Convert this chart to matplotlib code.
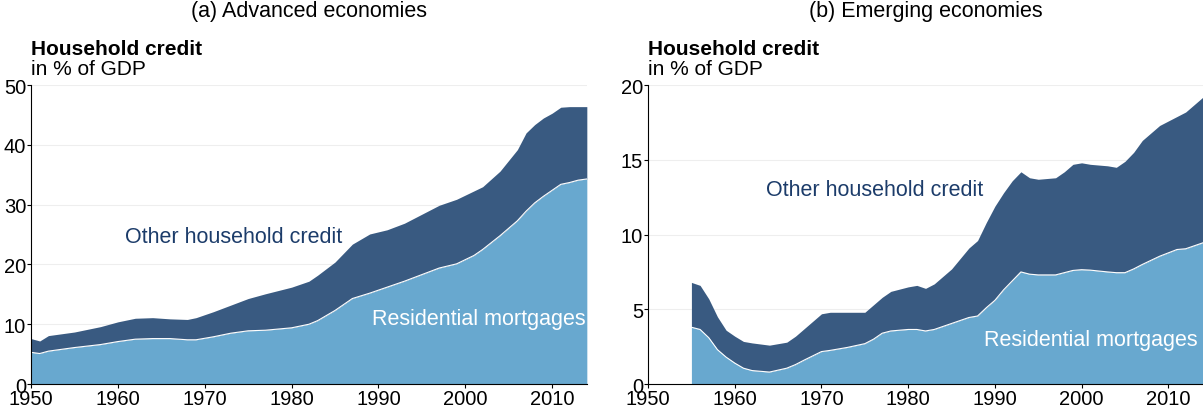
import numpy as np
import matplotlib.pyplot as plt
import matplotlib as mpl

mpl.rcParams["font.family"] = ["Liberation Sans", "DejaVu Sans"]

# ── data: advanced economies ─────────────────────
adv_years = [1950, 1951, 1952, 1955, 1958, 1960, 1962, 1964, 1966, 1968, 1969,
             1971, 1973, 1975, 1977, 1980, 1982, 1983, 1985, 1987, 1989, 1991,
             1993, 1995, 1997, 1999, 2001, 2002, 2004, 2006, 2007, 2008, 2009,
             2010, 2011, 2012, 2013, 2014]
adv_total = [7.6, 7.2, 8.1, 8.7, 9.6, 10.4, 11.0, 11.1, 10.9, 10.8, 11.1,
             12.1, 13.2, 14.3, 15.1, 16.2, 17.2, 18.2, 20.4, 23.4, 25.1, 25.8,
             26.9, 28.4, 29.9, 30.9, 32.3, 33.0, 35.6, 39.2, 42.0, 43.4, 44.5,
             45.3, 46.3, 46.4, 46.4, 46.4]
adv_mort = [5.3, 5.1, 5.5, 6.1, 6.6, 7.1, 7.5, 7.6, 7.6, 7.4, 7.4,
            7.9, 8.5, 8.9, 9.0, 9.4, 10.0, 10.6, 12.3, 14.3, 15.2, 16.2,
            17.2, 18.3, 19.4, 20.1, 21.5, 22.5, 24.8, 27.3, 28.9, 30.3, 31.4,
            32.4, 33.4, 33.7, 34.1, 34.3]

# ── data: emerging economies ─────────────────────
em_years = [1955, 1956, 1957, 1958, 1959, 1960, 1961, 1962, 1964, 1966, 1967,
            1968, 1970, 1971, 1973, 1975, 1976, 1977, 1978, 1980, 1981, 1982,
            1983, 1985, 1986, 1987, 1988, 1989, 1990, 1991, 1992, 1993, 1994,
            1995, 1997, 1998, 1999, 2000, 2001, 2003, 2004, 2005, 2006, 2007,
            2009, 2011, 2012, 2013, 2014]
em_total = [6.8, 6.6, 5.7, 4.5, 3.6, 3.2, 2.85, 2.75, 2.6, 2.8, 3.2,
            3.7, 4.7, 4.8, 4.8, 4.8, 5.3, 5.8, 6.2, 6.5, 6.6, 6.4,
            6.7, 7.7, 8.4, 9.1, 9.6, 10.8, 11.9, 12.8, 13.6, 14.2, 13.8,
            13.7, 13.8, 14.2, 14.7, 14.8, 14.7, 14.6, 14.5, 14.9, 15.5, 16.3,
            17.3, 17.9, 18.2, 18.7, 19.2]
em_mort = [3.8, 3.65, 3.1, 2.3, 1.8, 1.4, 1.06, 0.9, 0.8, 1.06, 1.3,
           1.6, 2.17, 2.25, 2.45, 2.7, 3.0, 3.4, 3.55, 3.65, 3.65, 3.55,
           3.65, 4.05, 4.25, 4.45, 4.55, 5.1, 5.6, 6.3, 6.9, 7.5, 7.35,
           7.3, 7.3, 7.45, 7.6, 7.65, 7.62, 7.5, 7.45, 7.45, 7.7, 8.0,
           8.55, 9.0, 9.05, 9.25, 9.45]

light = "#68a8cf"
dark = "#395a81"
navy = "#1c3c6a"

fig = plt.figure(figsize=(12.03, 4.14), dpi=100)
ax1 = fig.add_axes([0.0258, 0.070, 0.462, 0.722])
ax2 = fig.add_axes([0.5387, 0.070, 0.4613, 0.722])


def draw(ax, years, total, mort, ymax, yticks, title, lab_other, lab_mort):
    ax.fill_between(years, mort, total, color=dark, linewidth=0)
    ax.fill_between(years, 0, mort, color=light, linewidth=0)
    ax.plot(years, mort, color="white", linewidth=0.8)
    ax.set_xlim(1950, 2014)
    ax.set_ylim(0, ymax)
    ax.set_yticks(yticks)
    ax.set_xticks(range(1950, 2011, 10))
    for y in yticks[1:]:
        ax.axhline(y, color="#eeeeee", linewidth=0.8, zorder=0)
    ax.set_axisbelow(True)
    for s in ["top", "right"]:
        ax.spines[s].set_visible(False)
    ax.spines["left"].set_linewidth(0.8)
    ax.spines["bottom"].set_linewidth(0.8)
    ax.tick_params(labelsize=14.5, length=3, width=0.8, pad=0.5)
    ax.set_title(title, fontsize=15.5, pad=50)
    ax.text(0.0, 1.104, "Household credit", transform=ax.transAxes,
            fontsize=15, fontweight="bold", va="baseline")
    ax.text(0.0, 1.037, "in % of GDP", transform=ax.transAxes,
            fontsize=15, va="baseline")
    ax.text(*lab_other, "Other household credit", fontsize=15.5, color=navy,
            ha="center", va="center")
    ax.text(*lab_mort, "Residential mortgages", fontsize=15.5, color="white",
            ha="center", va="center")


draw(ax1, adv_years, adv_total, adv_mort, 50, [0, 10, 20, 30, 40, 50],
     "(a) Advanced economies", (1973.3, 24.7), (2001.6, 10.9))
draw(ax2, em_years, em_total, em_mort, 20, [0, 5, 10, 15, 20],
     "(b) Emerging economies", (1976.1, 13.0), (2001.1, 2.95))

fig.savefig("out.png", dpi=100)
